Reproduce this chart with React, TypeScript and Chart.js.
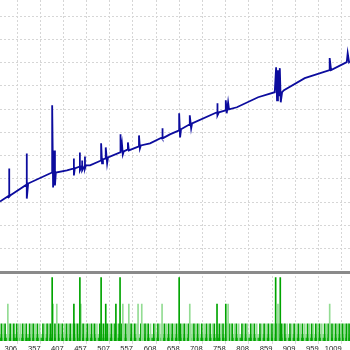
import { useEffect, useRef } from "react";
import { Chart, registerables } from "chart.js";

Chart.register(...registerables);

// x axis: trade numbers
const xMin = 269;
const xMax = 1027;
const xTickLabels = [306, 357, 407, 457, 507, 557, 608, 658, 708, 758, 808, 859, 909, 959, 1009];

// balance pane
const balanceMin = 1480;
const balanceMax = 7350;
const balanceGrid = [2000, 2500, 3000, 3500, 4000, 4500, 5000, 5500, 6000, 6500, 7000];

const balanceTrades = [
  269, 289, 289, 289, 291, 327, 327, 327, 330, 377,
  382, 382, 384, 386, 388, 390, 414, 429, 429, 429,
  431, 442, 442, 442, 447, 447, 447, 453, 453, 453,
  455, 464, 488, 488, 490, 492, 498, 498, 501, 503,
  529, 529, 531, 533, 535, 537, 546, 546, 548, 570,
  570, 572, 574, 594, 620, 620, 622, 637, 657, 657,
  659, 661, 680, 680, 683, 685, 739, 739, 741, 743,
  758, 758, 760, 763, 765, 782, 828, 864, 867, 869,
  871, 873, 875, 877, 880, 884, 929, 983, 983, 986,
  1020, 1022, 1025, 1027,
];
const balanceValues = [
  3011, 3141, 3724, 3119, 3141, 3378, 4048, 3076, 3400, 3616,
  3637, 5084, 3314, 4112, 3357, 3637, 3681, 3724, 3940, 3573,
  3724, 3767, 4069, 3681, 3789, 3896, 3681, 3789, 3983, 3724,
  3789, 3789, 3896, 4264, 3832, 3918, 3940, 4177, 3832, 3961,
  4069, 4458, 4069, 4264, 4026, 4091, 4134, 4285, 4112, 4199,
  4436, 4156, 4220, 4264, 4393, 4587, 4371, 4458, 4544, 4911,
  4393, 4566, 4674, 4868, 4587, 4695, 4933, 5127, 4868, 4933,
  4976, 5192, 4911, 5149, 4998, 5041, 5257, 5365, 5904, 5192,
  5840, 5278, 5883, 5149, 5365, 5408, 5667, 5840, 6099, 5840,
  6012, 6207, 6012, 6034,
];

// lots pane
const lotMax = 1.0;
const bandLot = 0.1;
const stripLot = 0.045;
const smallLot = 0.25;
const midLot = 0.54;
const bigLot = 0.93;

const bigTrades = [382, 442, 488, 529, 657, 866, 876];
const midDarkTrades = [429, 498, 520, 739, 758];
const midLightTrades = [286, 384, 392, 444, 535, 548, 568, 576, 620, 680, 763, 871, 983];
const smallDarkTrades = [
  272, 280, 291, 299, 305, 318, 326, 333, 341, 350, 362, 371, 378, 383, 388, 396,
  404, 413, 421, 430, 437, 449, 458, 467, 474, 485, 493, 501, 510, 518, 527, 533,
  541, 553, 561, 574, 583, 590, 602, 611, 625, 634, 642, 651, 660, 668, 677, 689,
  697, 706, 716, 724, 733, 744, 752, 765, 772, 781, 793, 801, 812, 820, 832, 841,
  850, 858, 866, 872, 879, 886, 897, 906, 915, 924, 935, 944, 953, 961, 972, 980,
  988, 996, 1004, 1011, 1019, 1025,
];
const smallLightTrades = [
  276, 286, 295, 309, 313, 322, 337, 345, 355, 366, 374, 392, 400, 409, 417, 425,
  434, 441, 445, 453, 462, 471, 479, 489, 497, 505, 514, 522, 537, 545, 549, 557,
  566, 579, 586, 595, 606, 615, 620, 629, 638, 646, 655, 664, 672, 681, 685, 693,
  701, 711, 720, 729, 738, 748, 757, 761, 769, 777, 786, 797, 805, 816, 825, 836,
  845, 854, 862, 869, 876, 883, 891, 901, 910, 919, 929, 939, 948, 957, 966, 976,
  984, 992, 1000, 1008, 1015, 1022,
];

const DARK_GREEN = "#00a400";
const LIGHT_GREEN = "#93dc93";
const GRID = "#d6d6d6";

export default function App() {
  const ref = useRef<HTMLCanvasElement | null>(null);

  useEffect(() => {
    document.body.style.margin = "0";
    const canvas = ref.current;
    if (!canvas) return;

    const balancePts = balanceTrades.map((t, i) => ({ x: t, y: balanceValues[i] }));
    const bars = (trades: number[], lot: number) => trades.map((t) => ({ x: t, y: lot }));
    const barSet = (label: string, data: any[], color: string) => ({
      type: "bar" as const,
      label,
      data,
      yAxisID: "yVol",
      backgroundColor: color,
      borderWidth: 0,
      barThickness: 1,
      grouped: false,
    });

    const chart = new Chart(canvas, {
      type: "line",
      data: {
        datasets: [
          {
            type: "line",
            label: "Balance",
            data: balancePts,
            yAxisID: "yBal",
            borderColor: "#0c0c9e",
            borderWidth: 1.8,
            pointRadius: 0,
            tension: 0,
            fill: false,
          } as any,
          barSet("Big lots", bars(bigTrades, bigLot), DARK_GREEN),
          barSet("Mid lots dark", bars(midDarkTrades, midLot), DARK_GREEN),
          barSet("Mid lots light", bars(midLightTrades, midLot), LIGHT_GREEN),
          barSet("Small lots dark", bars(smallDarkTrades, smallLot), DARK_GREEN),
          barSet("Small lots light", bars(smallLightTrades, smallLot), LIGHT_GREEN),
          {
            type: "line",
            label: "Strip",
            data: [
              { x: xMin, y: stripLot },
              { x: xMax, y: stripLot },
            ],
            yAxisID: "yVol",
            borderWidth: 0,
            pointRadius: 0,
            fill: "origin",
            backgroundColor: "#1fb51f",
          } as any,
          {
            type: "line",
            label: "Band",
            data: [
              { x: xMin, y: bandLot },
              { x: xMax, y: bandLot },
            ],
            yAxisID: "yVol",
            borderWidth: 0,
            pointRadius: 0,
            fill: "origin",
            backgroundColor: "#a6e2a6",
          } as any,
        ],
      },
      options: {
        animation: false,
        responsive: false,
        events: [],
        layout: { padding: 0 },
        plugins: { legend: { display: false }, tooltip: { enabled: false } },
        scales: {
          x: {
            type: "linear",
            min: xMin,
            max: xMax,
            offset: false,
            afterBuildTicks: (s: any) => {
              s.ticks = xTickLabels.map((v) => ({ value: v }));
            },
            ticks: {
              align: "end",
              padding: 0,
              color: "#222",
              autoSkip: false,
              maxRotation: 0,
              font: { family: "Liberation Sans", size: 7.6 },
              callback: (v: any) => String(v),
            },
            grid: { color: GRID, tickLength: 3, tickColor: GRID, offset: false },
            border: { display: false, dash: [2, 2] },
          },
          yBal: {
            type: "linear",
            position: "right",
            stack: "panes",
            stackWeight: 272,
            min: balanceMin,
            max: balanceMax,
            afterBuildTicks: (s: any) => {
              s.ticks = balanceGrid.map((v) => ({ value: v }));
            },
            ticks: { display: false },
            grid: { color: GRID, drawTicks: false },
            border: { display: false, dash: [2, 2] },
          },
          yVol: {
            type: "linear",
            position: "right",
            stack: "panes",
            stackWeight: 68,
            min: 0,
            max: lotMax,
            afterBuildTicks: (s: any) => {
              s.ticks = [{ value: lotMax }];
            },
            ticks: { display: false },
            grid: { color: "#8a8a8a", lineWidth: 3, drawTicks: false },
            border: { display: false },
          },
        } as any,
      },
    });
    return () => chart.destroy();
  }, []);

  return (
    <div style={{ position: "fixed", left: 0, top: 0, width: 350, height: 353, overflow: "hidden" }}>
      <canvas ref={ref} width={350} height={353} style={{ display: "block" }} />
    </div>
  );
}
